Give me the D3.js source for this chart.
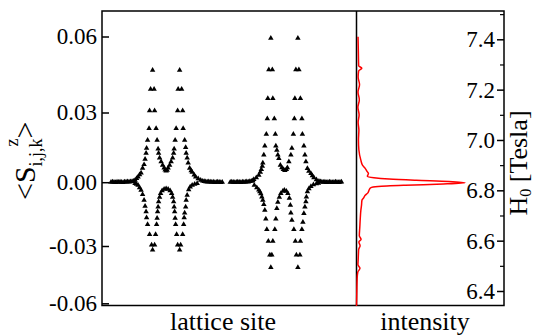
<!DOCTYPE html>
<html>
<head>
<meta charset="utf-8">
<script src="https://cdn.jsdelivr.net/npm/d3@7"></script>
<style>
  html, body { margin: 0; background: #fff; }
  svg { display: block; }
</style>
</head>
<body>
<svg id="chart" width="535" height="336"></svg>
<script>
// <S^z> tick values and labels (the printed axis is not evenly spaced)
const sTicks = [-0.06, -0.03, 0, 0.03, 0.06]
const sTickLabels = ['-0.06', '-0.03', '0.00', '0.03', '0.06']
const fieldTicks = [6.4, 6.6, 6.8, 7.0, 7.2, 7.4]
const fieldTickLabels = ['6.4', '6.6', '6.8', '7.0', '7.2', '7.4']
const fieldMinorTicks = [6.5, 6.7, 6.9, 7.1, 7.3, 7.5]

// lattice site, <S^z> — first defect
const leftUpper = [
  [18, 0.0000], [21, 0.0001], [24, 0.0000], [27, -0.0001], [30, 0.0001], [33, 0.0000], [36, 0.0001], [39, 0.0000],
  [42, -0.0001], [45, 0.0001], [48, 0.0001], [51, 0.0002], [54, 0.0001], [57, 0.0002], [60, 0.0003], [63, 0.0005],
  [66, 0.0009], [69, 0.0016], [72, 0.0023], [75, 0.0032], [78, 0.0040], [81, 0.0060], [84, 0.0076], [86, 0.0099],
  [88, 0.0125], [89, 0.0147], [91, 0.0181], [94, 0.0232], [95, 0.0307], [97, 0.0392], [101, 0.0467],
  [104, 0.0392], [105, 0.0307], [108, 0.0232], [110, 0.0181], [112, 0.0143], [113, 0.0125], [115, 0.0105], [118, 0.0088],
  [121, 0.0073], [124, 0.0062], [126, 0.0053], [128, 0.0049], [130, 0.0052], [132, 0.0062], [135, 0.0073], [138, 0.0088],
  [141, 0.0105], [143, 0.0125], [144, 0.0143], [146, 0.0181], [148, 0.0232], [151, 0.0307], [152, 0.0392], [155, 0.0467],
  [159, 0.0392], [161, 0.0307], [162, 0.0232], [165, 0.0181], [167, 0.0150], [168, 0.0125], [170, 0.0104], [172, 0.0083],
  [175, 0.0060], [178, 0.0050], [180, 0.0043], [184, 0.0031], [187, 0.0023], [192, 0.0015], [197, 0.0009], [201, 0.0005],
  [204, 0.0003], [207, 0.0002], [210, 0.0001], [213, 0.0002], [216, 0.0001], [219, 0.0000], [222, 0.0001], [225, -0.0001],
  [228, 0.0000], [231, 0.0001], [234, 0.0000], [237, -0.0001], [240, 0.0000],
]
const leftLower = [
  [66, -0.0006], [69, -0.0009], [72, -0.0014], [75, -0.0026], [78, -0.0038], [81, -0.0058], [84, -0.0084], [86, -0.0113],
  [88, -0.0139], [89, -0.0167], [91, -0.0198], [95, -0.0245], [99, -0.0295], [101, -0.0321],
  [105, -0.0295], [107, -0.0245], [109, -0.0198], [110, -0.0169], [111, -0.0139], [112, -0.0116], [113, -0.0092], [115, -0.0070],
  [117, -0.0053], [120, -0.0040], [124, -0.0033], [128, -0.0030], [132, -0.0033], [136, -0.0040], [139, -0.0053], [141, -0.0070],
  [143, -0.0092], [144, -0.0116], [145, -0.0139], [146, -0.0169], [147, -0.0198], [149, -0.0245], [151, -0.0295], [155, -0.0321],
  [157, -0.0295], [161, -0.0245], [163, -0.0198], [164, -0.0167], [165, -0.0145], [167, -0.0116], [168, -0.0084], [170, -0.0061],
  [173, -0.0035], [176, -0.0022], [180, -0.0014], [185, -0.0009], [190, -0.0006],
]

// lattice site, <S^z> — second defect
const rightUpper = [
  [256, 0.0000], [259, 0.0001], [262, 0.0000], [265, -0.0001], [268, 0.0000], [271, 0.0001], [274, 0.0000], [277, -0.0001],
  [280, 0.0001], [283, 0.0000], [286, 0.0001], [289, 0.0002], [292, 0.0001], [295, 0.0003], [298, 0.0004],
  [301, 0.0007], [303, 0.0012], [308, 0.0019], [313, 0.0030], [316, 0.0043], [318, 0.0055], [320, 0.0069], [321, 0.0083],
  [323, 0.0117], [325, 0.0156], [328, 0.0207], [330, 0.0273], [331, 0.0356], [333, 0.0469], [337, 0.0593],
  [340, 0.0469], [341, 0.0356], [344, 0.0273], [346, 0.0207], [347, 0.0156], [349, 0.0138], [351, 0.0117], [353, 0.0102],
  [356, 0.0073], [359, 0.0063], [362, 0.0055], [365, 0.0051], [368, 0.0055], [370, 0.0063], [373, 0.0088], [377, 0.0117],
  [379, 0.0147], [382, 0.0207], [384, 0.0273], [385, 0.0356], [387, 0.0469], [391, 0.0593],
  [393, 0.0469], [396, 0.0356], [399, 0.0273], [400, 0.0207], [403, 0.0156], [405, 0.0117], [407, 0.0088], [410, 0.0059],
  [413, 0.0048], [417, 0.0038], [420, 0.0028], [423, 0.0019], [428, 0.0011], [433, 0.0004],
  [436, 0.0002], [439, 0.0001], [442, 0.0000], [445, 0.0001], [448, -0.0001], [451, 0.0000], [454, 0.0001], [457, 0.0000],
  [460, -0.0001], [463, 0.0000], [466, 0.0001], [469, 0.0000], [472, -0.0001], [475, 0.0000], [478, 0.0001],
]
const rightLower = [
  [304, -0.0014], [309, -0.0026], [313, -0.0036], [315, -0.0045], [317, -0.0054], [319, -0.0069], [321, -0.0084], [323, -0.0104],
  [325, -0.0131], [327, -0.0173], [329, -0.0222], [332, -0.0277], [335, -0.0347], [337, -0.0412],
  [339, -0.0347], [341, -0.0277], [345, -0.0222], [347, -0.0173], [349, -0.0123], [351, -0.0094], [354, -0.0070], [357, -0.0053],
  [361, -0.0042], [364, -0.0038], [368, -0.0042], [371, -0.0053], [374, -0.0075], [376, -0.0108], [377, -0.0145], [379, -0.0178],
  [383, -0.0222], [386, -0.0277], [388, -0.0347], [391, -0.0412],
  [395, -0.0347], [396, -0.0277], [399, -0.0222], [401, -0.0188], [403, -0.0147], [405, -0.0116], [407, -0.0092], [408, -0.0069],
  [410, -0.0045], [413, -0.0030], [417, -0.0020], [422, -0.0012], [428, -0.0007], [432, -0.0004],
]

// NMR line: field H0 [T] and intensity (arb.)
const fieldH = [6.34, 6.40, 6.45, 6.475, 6.49, 6.505, 6.52, 6.55, 6.565, 6.58,
  6.595, 6.605, 6.62, 6.65, 6.69, 6.72, 6.74, 6.76, 6.77, 6.78,
  6.79, 6.80, 6.805, 6.81, 6.815, 6.82, 6.825, 6.83, 6.835, 6.84,
  6.845, 6.85, 6.856, 6.861, 6.867, 6.873, 6.887, 6.90, 6.92, 6.96,
  7.00, 7.04, 7.07, 7.10, 7.13, 7.16, 7.19, 7.22, 7.25, 7.275,
  7.285, 7.295, 7.35, 7.41]
const intensity = [0.000, 0.003, 0.006, 0.012, 0.032, 0.013, 0.015, 0.018, 0.020, 0.033,
  0.022, 0.042, 0.026, 0.030, 0.035, 0.040, 0.046, 0.050, 0.066, 0.080,
  0.105, 0.115, 0.120, 0.130, 0.200, 0.450, 0.800, 1.000, 0.850, 0.550,
  0.300, 0.160, 0.100, 0.105, 0.110, 0.101, 0.080, 0.055, 0.040, 0.022,
  0.018, 0.022, 0.015, 0.024, 0.013, 0.026, 0.014, 0.028, 0.015, 0.020,
  0.049, 0.020, 0.017, 0.014]

const font = "'Liberation Serif', 'Times New Roman', serif"
const frame = { left: 102, split: 356.5, right: 504, top: 11, bottom: 305.5 }

const svg = d3.select('#chart')

const x = d3.scaleLinear().domain([0, 508]).range([frame.left, frame.split])
const y = d3.scaleLinear().domain(sTicks).range([303.3, 246, 182.2, 112.5, 36.5])
const h = d3.scaleLinear().domain([6.4, 7.4]).range([291, 39.3])
const xi = d3.scaleLinear().domain([0, 1]).range([frame.split, 465])

// spin profile
const points = [...leftUpper, ...leftLower, ...rightUpper, ...rightLower]
svg.append('g')
  .selectAll('path')
  .data(points)
  .join('path')
  .attr('transform', (d) => `translate(${x(d[0])},${y(d[1])})`)
  .attr('d', d3.symbol(d3.symbolTriangle, 13))
  .attr('fill', '#000')

// intensity line
const lineData = fieldH.map((f, i) => ({ f, v: intensity[i] }))
const line = d3.line().x((d) => xi(d.v)).y((d) => h(d.f)).curve(d3.curveMonotoneY)

// frame
svg.append('rect')
  .attr('x', frame.left).attr('y', frame.top)
  .attr('width', frame.right - frame.left).attr('height', frame.bottom - frame.top)
  .attr('fill', 'none').attr('stroke', '#000').attr('stroke-width', 1.5)
svg.append('line')
  .attr('x1', frame.split).attr('x2', frame.split).attr('y1', frame.top).attr('y2', frame.bottom)
  .attr('stroke', '#000').attr('stroke-width', 1.5)

svg.append('path').datum(lineData)
  .attr('fill', 'none').attr('stroke', '#ff0000').attr('stroke-width', 1.5).attr('d', line)

// left axis, ticks pointing inward
const leftAxis = svg.append('g')
  .attr('transform', `translate(${frame.left},0)`)
  .call(d3.axisLeft(y).tickValues(sTicks).tickSize(-7).tickPadding(5).tickFormat((d, i) => sTickLabels[i]))
leftAxis.select('.domain').remove()
leftAxis.selectAll('line').attr('stroke-width', 1.5)
leftAxis.selectAll('text').attr('font-family', font).attr('font-size', 23).attr('fill', '#000')

// right axis, labels inside the panel
const rightAxis = svg.append('g')
  .attr('transform', `translate(${frame.right},0)`)
  .call(d3.axisLeft(h).tickValues(fieldTicks).tickSize(7).tickPadding(2).tickFormat((d, i) => fieldTickLabels[i]))
rightAxis.select('.domain').remove()
rightAxis.selectAll('line').attr('stroke-width', 1.5)
rightAxis.selectAll('text').attr('font-family', font).attr('font-size', 23).attr('fill', '#000')

const minorAxis = svg.append('g')
  .attr('transform', `translate(${frame.right},0)`)
  .call(d3.axisLeft(h).tickValues(fieldMinorTicks).tickSize(4).tickFormat(''))
minorAxis.select('.domain').remove()
minorAxis.selectAll('line').attr('stroke-width', 1.2)

// axis titles
svg.append('text').attr('x', 223).attr('y', 330).attr('text-anchor', 'middle')
  .attr('font-family', font).attr('font-size', 26).text('lattice site')
svg.append('text').attr('x', 425).attr('y', 330).attr('text-anchor', 'middle')
  .attr('font-family', font).attr('font-size', 26).text('intensity')

const hTitle = svg.append('text')
  .attr('transform', 'translate(527,163) rotate(-90)')
  .attr('text-anchor', 'middle')
  .attr('font-family', font).attr('font-size', 26)
hTitle.append('tspan').text('H')
hTitle.append('tspan').attr('font-size', 16).attr('dy', 4).text('0')
hTitle.append('tspan').attr('dy', -4).text(' [Tesla]')

const sTitle = svg.append('text')
  .attr('transform', 'translate(35,0) rotate(-90)')
  .attr('x', -200).attr('y', 0)
  .attr('font-family', font).attr('font-size', 30)
sTitle.append('tspan').text('<S')
sTitle.append('tspan').attr('font-size', 18).attr('dy', 7).text('i,j,k')
sTitle.append('tspan').attr('font-size', 18).attr('dx', -8).attr('dy', -24).text('z')
sTitle.append('tspan').attr('dy', 17).text('>')
</script>
</body>
</html>
